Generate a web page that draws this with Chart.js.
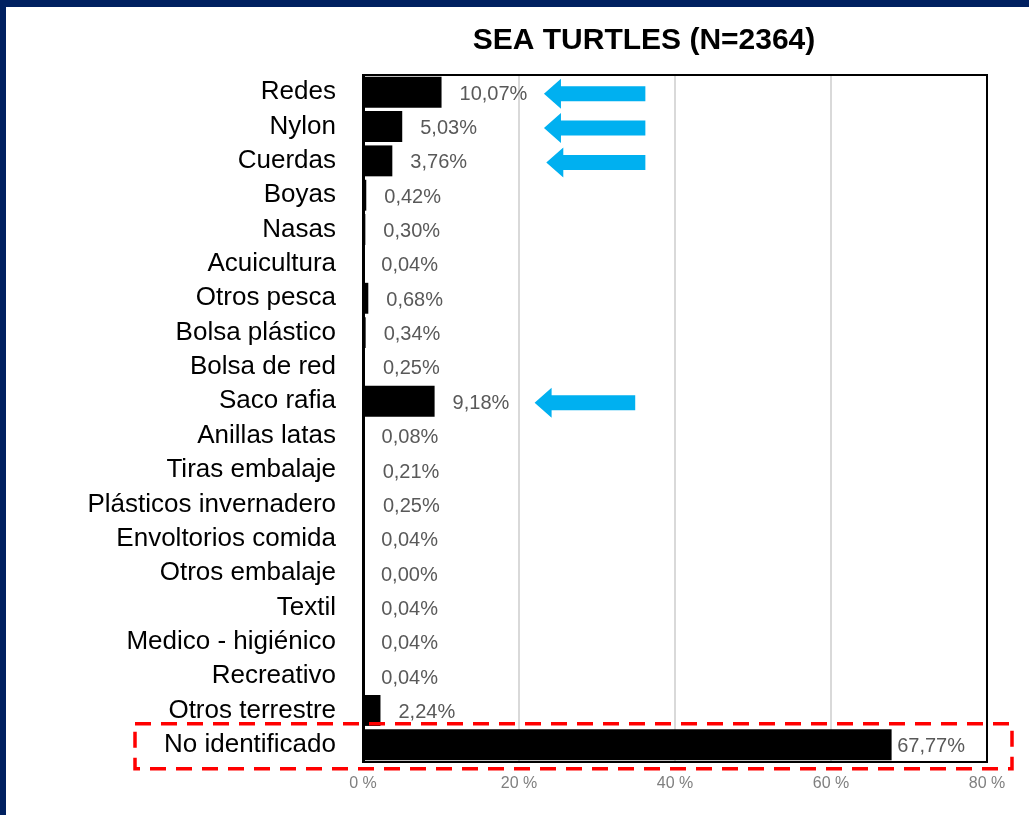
<!DOCTYPE html>
<html>
<head>
<meta charset="utf-8">
<script src="https://cdn.jsdelivr.net/npm/chart.js@4/dist/chart.umd.min.js"></script>
<style>
  html, body { margin: 0; padding: 0; background: #ffffff; overflow: hidden; }
  #wrap { width: 1029px; height: 815px; position: relative; }
  canvas { display: block; }
</style>
</head>
<body>
<div id="wrap"><canvas id="c" width="1029" height="815"></canvas></div>
<script>
const titleText = 'SEA TURTLES (N=2364)';
const categories = [
  'Redes', 'Nylon', 'Cuerdas', 'Boyas', 'Nasas', 'Acuicultura', 'Otros pesca',
  'Bolsa plástico', 'Bolsa de red', 'Saco rafia', 'Anillas latas', 'Tiras embalaje',
  'Plásticos invernadero', 'Envoltorios comida', 'Otros embalaje', 'Textil',
  'Medico - higiénico', 'Recreativo', 'Otros terrestre', 'No identificado'
];
const values = [
  10.07, 5.03, 3.76, 0.42, 0.30, 0.04, 0.68,
  0.34, 0.25, 9.18, 0.08, 0.21,
  0.25, 0.04, 0.00, 0.04,
  0.04, 0.04, 2.24, 67.77
];
const tickLabels = ['0 %', '20 %', '40 %', '60 %', '80 %'];
// annotation arrows (in data units along the x axis)
const arrowCategories = ['Redes', 'Nylon', 'Cuerdas', 'Saco rafia'];
const arrowTips = [23.2, 23.2, 23.5, 22.0];
const arrowTails = [36.2, 36.2, 36.2, 34.9];
const highlightCategory = 'No identificado';

const FONT = '"Liberation Sans", Arial, Helvetica, sans-serif';
const W = 1029, H = 815;

const fmt = v => v.toFixed(2).replace('.', ',') + '%';

const decor = {
  id: 'decor',
  beforeDraw(chart) {
    const ctx = chart.ctx;
    ctx.save();
    ctx.fillStyle = '#ffffff';
    ctx.fillRect(0, 0, W, H);
    ctx.fillStyle = '#002060';
    ctx.fillRect(0, 0, W, 7);
    ctx.fillRect(0, 0, 6, H);
    ctx.restore();
  },
  afterDatasetsDraw(chart) {
    const ctx = chart.ctx;
    const a = chart.chartArea;
    const xs = chart.scales.x, ys = chart.scales.y;
    ctx.save();
    // plot frame
    ctx.strokeStyle = '#000000';
    ctx.lineWidth = 2;
    ctx.strokeRect(a.left, a.top, a.right - a.left, a.bottom - a.top);
    ctx.fillStyle = '#000000';
    ctx.fillRect(a.left - 1, a.top, 3, a.bottom - a.top);

    // value labels
    ctx.font = '20px ' + FONT;
    ctx.fillStyle = '#595959';
    ctx.textAlign = 'left';
    ctx.textBaseline = 'middle';
    values.forEach((v, i) => {
      const t = fmt(v);
      const w = ctx.measureText(t).width;
      let x = xs.getPixelForValue(v) + 18;
      if (x + w > a.right - 20) x = a.right - 22 - w;
      ctx.fillText(t, x, ys.getPixelForValue(i) + 2);
    });

    // arrows
    ctx.fillStyle = '#00b0f0';
    arrowCategories.forEach((c, k) => {
      const idx = categories.indexOf(c);
      const y = ys.getPixelForValue(idx) + 1.5;
      const xt = xs.getPixelForValue(arrowTips[k]);
      const xe = xs.getPixelForValue(arrowTails[k]);
      const hl = 17, hh = 15, sh = 7.5;
      ctx.beginPath();
      ctx.moveTo(xt, y);
      ctx.lineTo(xt + hl, y - hh);
      ctx.lineTo(xt + hl, y - sh);
      ctx.lineTo(xe, y - sh);
      ctx.lineTo(xe, y + sh);
      ctx.lineTo(xt + hl, y + sh);
      ctx.lineTo(xt + hl, y + hh);
      ctx.closePath();
      ctx.fill();
    });

    // highlight box
    const hi = categories.indexOf(highlightCategory);
    const yc = ys.getPixelForValue(hi);
    ctx.strokeStyle = '#ff0000';
    ctx.lineWidth = 3.5;
    ctx.setLineDash([16, 10]);
    ctx.strokeRect(135, yc - 21, (a.right + 25) - 135, 45);
    ctx.setLineDash([]);

    // title
    ctx.font = 'bold 30px ' + FONT;
    ctx.fillStyle = '#000000';
    ctx.textAlign = 'center';
    ctx.textBaseline = 'middle';
    ctx.fillText(titleText, 644, 41);
    ctx.restore();
  }
};

new Chart(document.getElementById('c'), {
  type: 'bar',
  data: {
    labels: categories,
    datasets: [{
      data: values,
      backgroundColor: '#000000',
      borderWidth: 0,
      barPercentage: 0.9,
      categoryPercentage: 1.0
    }]
  },
  options: {
    indexAxis: 'y',
    responsive: false,
    animation: false,
    devicePixelRatio: 1,
    layout: { padding: { left: 0, right: 42, top: 75, bottom: 0 } },
    plugins: {
      legend: { display: false },
      title: { display: false },
      tooltip: { enabled: false }
    },
    scales: {
      x: {
        min: 0,
        max: 80,
        afterFit(scale) { scale.height = 53; },
        grid: { color: '#d9d9d9', lineWidth: 2, drawTicks: false },
        border: { display: true, color: '#000000', width: 2 },
        ticks: {
          stepSize: 20,
          padding: 12,
          color: '#7f7f7f',
          font: { family: FONT, size: 16 },
          callback: (v, i) => tickLabels[i]
        }
      },
      y: {
        afterFit(scale) { scale.width = 363; },
        grid: { display: false },
        border: { display: true, color: '#000000', width: 3 },
        ticks: {
          autoSkip: false,
          padding: 19,
          color: '#000000',
          font: { family: FONT, size: 26 }
        }
      }
    }
  },
  plugins: [decor]
});
</script>
</body>
</html>
